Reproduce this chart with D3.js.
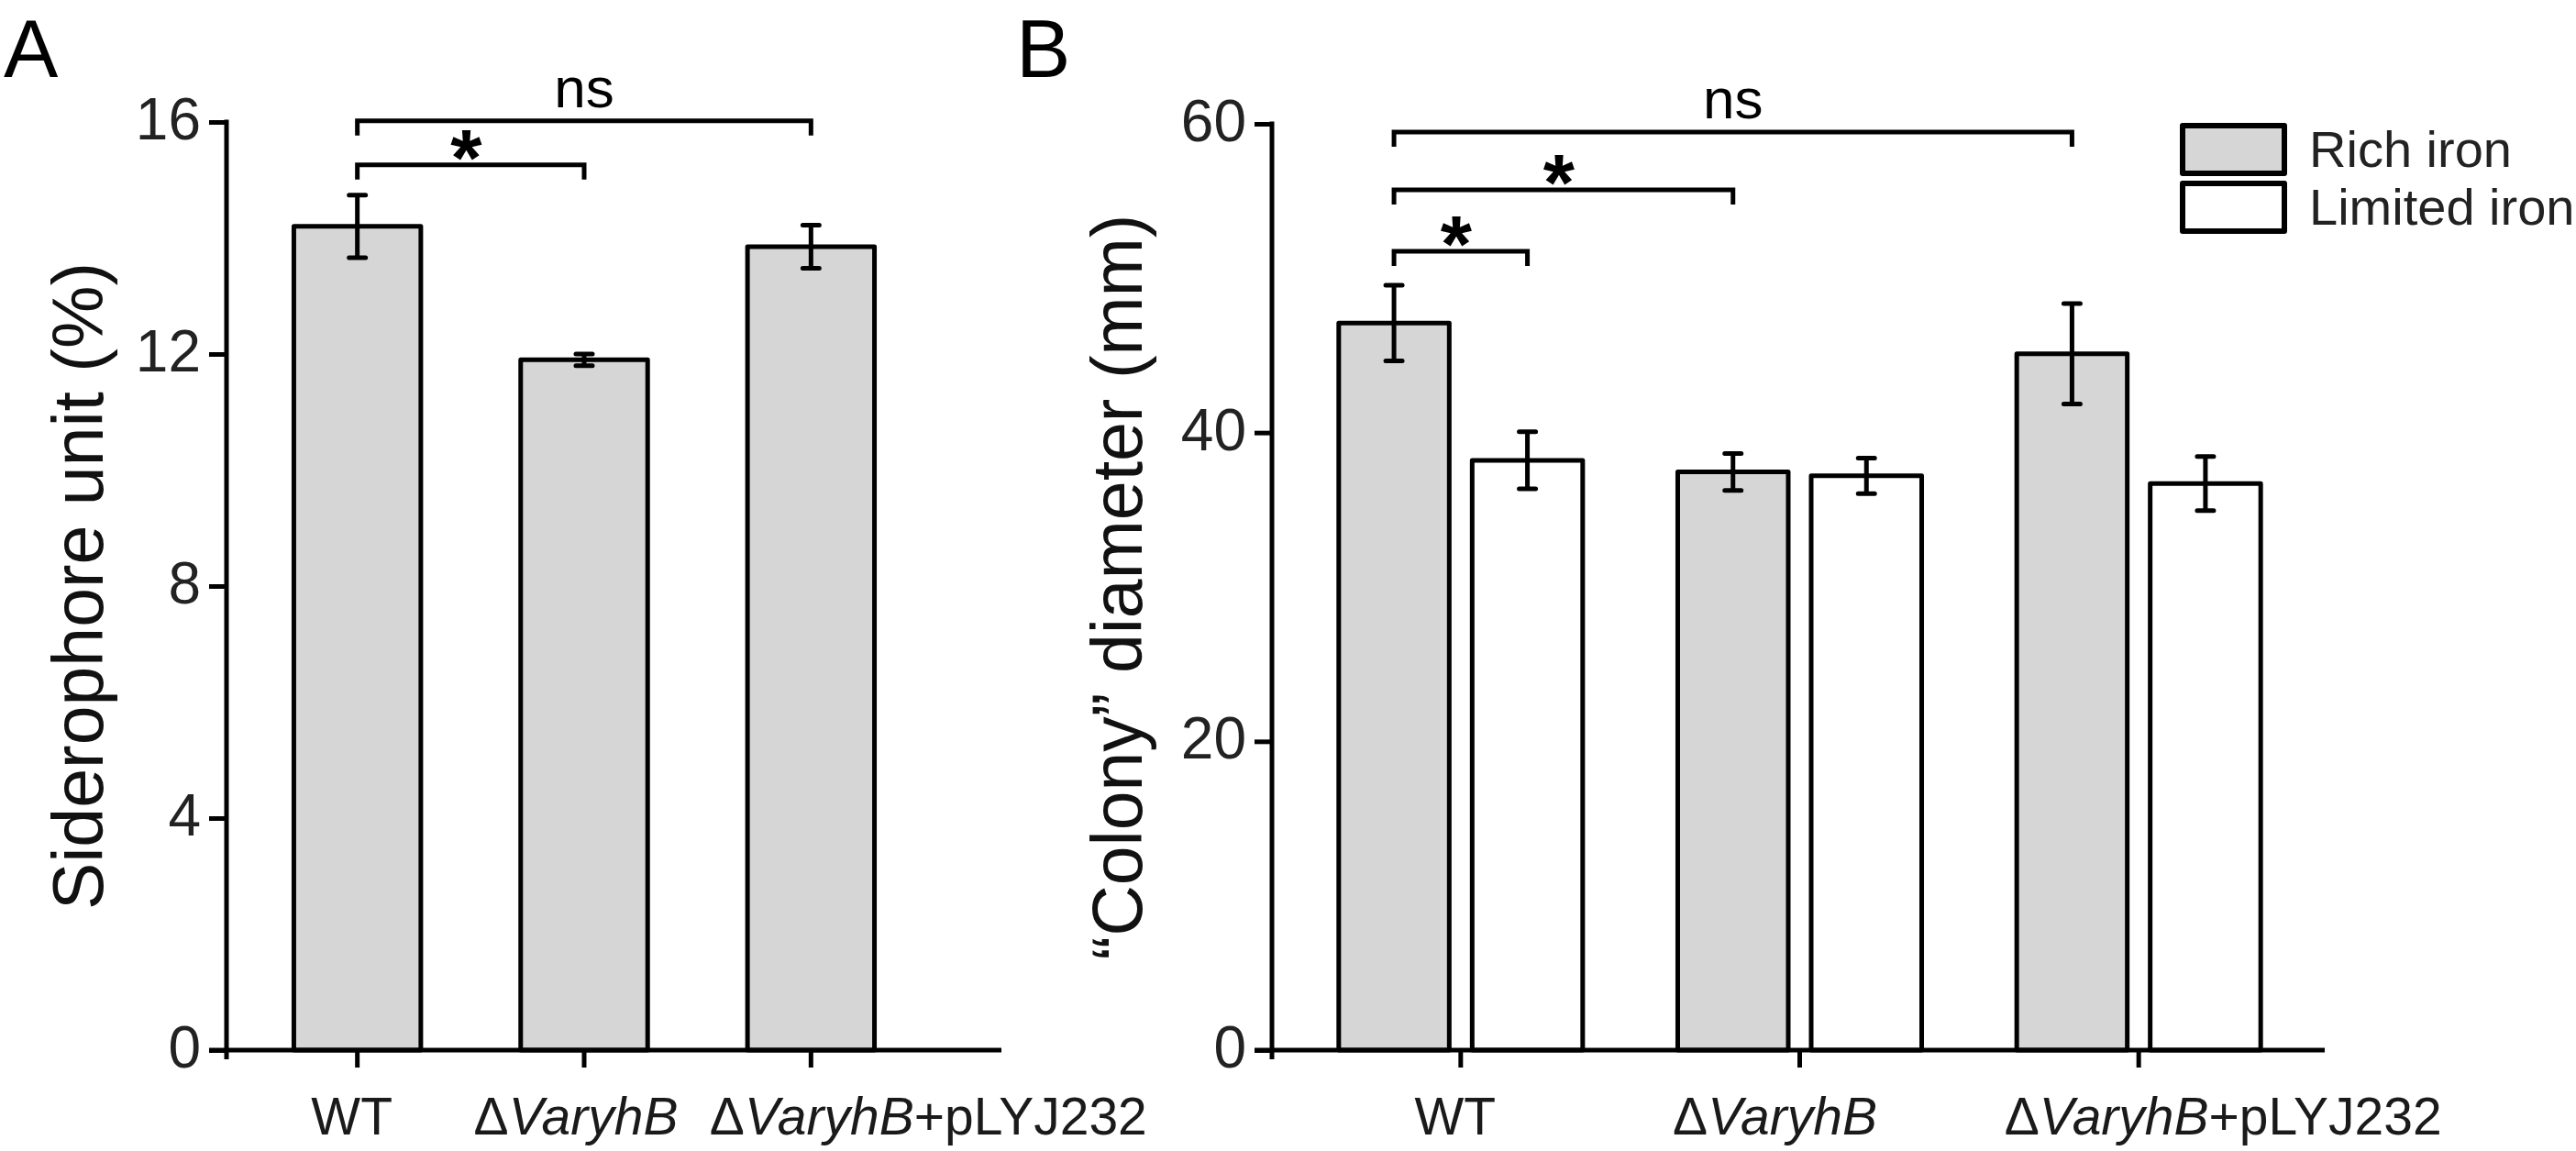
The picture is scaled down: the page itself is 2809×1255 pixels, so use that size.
<!DOCTYPE html>
<html>
<head>
<meta charset="utf-8">
<script src="https://cdn.jsdelivr.net/npm/d3@7"></script>
<style>
  body { margin: 0; background: #fff; }
  svg { display: block; font-family: "Liberation Sans", Arial, sans-serif; }
  .tick-label { font-size: 64px; fill: #222; }
  .cat-label { font-size: 57px; fill: #1a1a1a; }
  .axis-title { font-size: 77px; fill: #111; }
  .panel-label { font-size: 89px; fill: #000; }
  .legend-label { font-size: 56px; fill: #222; }
</style>
</head>
<body>
<svg id="chart"></svg>
<script>
const width = 2809, height = 1255;

// panel A
const categories = ["WT", "ΔVaryhB", "ΔVaryhB+pLYJ232"];
const siderophore = [14.2, 11.9, 13.85];
const siderophoreErr = [0.54, 0.1, 0.37];
const ticksA = [0, 4, 8, 12, 16];

// panel B
const series = ["Rich iron", "Limited iron"];
const richIron = [47.1, 37.45, 45.1];
const richIronErr = [2.45, 1.2, 3.25];
const limitedIron = [38.2, 37.2, 36.7];
const limitedIronErr = [1.85, 1.15, 1.75];
const ticksB = [0, 20, 40, 60];

// significance brackets: category index (A) or [category, series] (B)
const bracketsA = [
    {from: 0, to: 2, level: 16.02, label: "ns"},
    {from: 0, to: 1, level: 15.26, label: "*"}
];
const bracketsB = [
    {from: [0, 0], to: [2, 0], level: 59.47, label: "ns"},
    {from: [0, 0], to: [1, 0], level: 55.72, label: "*"},
    {from: [0, 0], to: [0, 1], level: 51.74, label: "*"}
];

const lw = 5, tickLen = 19, capHalf = 9, drop = 16;
const richFill = "#d6d6d6";

const svg = d3.select('#chart')
    .attr('width', width)
    .attr('height', height)
    .attr('viewBox', `0 0 ${width} ${height}`);

function labelParts(name) {
    // Δ normal, strain name italic, plasmid suffix normal
    if (!name.startsWith("Δ")) return [[name, false]];
    const plus = name.indexOf("+");
    const strain = plus < 0 ? name.slice(1) : name.slice(1, plus);
    const parts = [["Δ", false], [strain, true]];
    if (plus >= 0) parts.push([name.slice(plus), false]);
    return parts;
}

function drawYAxis(g, y, ticks, axisX, zeroY) {
    const ax = g.append('g')
        .attr('transform', `translate(${axisX},0)`)
        .call(d3.axisLeft(y).tickValues(ticks).tickSize(tickLen).tickSizeOuter(0).tickFormat(''));
    ax.select('.domain').remove();
    ax.selectAll('.tick line').attr('stroke', '#000').attr('stroke-width', lw);
    g.append('line')
        .attr('x1', axisX).attr('x2', axisX)
        .attr('y1', y(d3.max(ticks)) - lw / 2).attr('y2', zeroY + 10)
        .attr('stroke', '#000').attr('stroke-width', lw);
    g.selectAll('.ylab').data(ticks).enter().append('text')
        .attr('class', 'tick-label')
        .attr('x', axisX - tickLen - 9)
        .attr('y', d => y(d) + 19)
        .attr('text-anchor', 'end')
        .text(d => d);
}

function drawXAxis(g, x, axisX, endX, zeroY, shifts) {
    const ax = g.append('g')
        .attr('transform', `translate(0,${zeroY})`)
        .call(d3.axisBottom(x).tickSize(tickLen).tickSizeOuter(0).tickFormat(''));
    ax.select('.domain').remove();
    ax.selectAll('.tick line').attr('stroke', '#000').attr('stroke-width', lw);
    g.append('line')
        .attr('x1', axisX - tickLen).attr('x2', endX)
        .attr('y1', zeroY).attr('y2', zeroY)
        .attr('stroke', '#000').attr('stroke-width', lw);
    categories.forEach((c, i) => {
        const t = g.append('text')
            .attr('class', 'cat-label')
            .attr('x', x(c) + x.bandwidth() / 2 + shifts[i])
            .attr('y', 1237)
            .attr('text-anchor', 'middle');
        labelParts(c).forEach(p => {
            t.append('tspan').attr('font-style', p[1] ? 'italic' : 'normal').text(p[0]);
        });
    });
}

function drawErr(g, cx, y, v, e) {
    const path = `M${cx},${y(v + e)}V${y(v - e)}M${cx - capHalf},${y(v + e)}H${cx + capHalf}M${cx - capHalf},${y(v - e)}H${cx + capHalf}`;
    g.append('path')
        .attr('d', path)
        .attr('fill', 'none')
        .attr('stroke', '#000')
        .attr('stroke-width', lw)
        .attr('stroke-linecap', 'round');
}

function drawBracket(g, x1, x2, yy, label) {
    g.append('path')
        .attr('d', `M${x1},${yy + drop}V${yy}H${x2}V${yy + drop}`)
        .attr('fill', 'none')
        .attr('stroke', '#000')
        .attr('stroke-width', lw);
    const mid = (x1 + x2) / 2;
    if (label === '*') {
        g.append('text')
            .attr('x', mid - 5)
            .attr('y', yy + 22)
            .attr('text-anchor', 'middle')
            .attr('font-size', 88)
            .attr('font-weight', 'bold')
            .text('*');
    } else {
        g.append('text')
            .attr('x', mid)
            .attr('y', yy - 15)
            .attr('text-anchor', 'middle')
            .attr('font-size', 62)
            .text(label);
    }
}

// ---------- Panel A ----------
const axisXA = 247, endXA = 1092, zeroY = 1145;
const gA = svg.append('g');
const yA = d3.scaleLinear().domain([0, 16]).range([zeroY, 133]);
const xA = d3.scaleBand().domain(categories).range([266, 1008]).paddingInner(0.42).paddingOuter(0.21);

gA.selectAll('.bar').data(categories).enter().append('rect')
    .attr('x', d => xA(d) + lw / 2)
    .attr('y', (d, i) => yA(siderophore[i]))
    .attr('width', xA.bandwidth() - lw)
    .attr('height', (d, i) => zeroY - yA(siderophore[i]))
    .attr('fill', richFill)
    .attr('stroke', '#000')
    .attr('stroke-width', lw)
    .attr('stroke-linejoin', 'round');
categories.forEach((c, i) => {
    drawErr(gA, xA(c) + xA.bandwidth() / 2, yA, siderophore[i], siderophoreErr[i]);
});
drawYAxis(gA, yA, ticksA, axisXA, zeroY);
drawXAxis(gA, xA, axisXA, endXA, zeroY, [-6, -9, 128]);
bracketsA.forEach(b => {
    const x1 = xA(categories[b.from]) + xA.bandwidth() / 2;
    const x2 = xA(categories[b.to]) + xA.bandwidth() / 2;
    drawBracket(gA, x1, x2, yA(b.level), b.label);
});
gA.append('text')
    .attr('class', 'axis-title')
    .attr('transform', `translate(112,${(yA(0) + yA(16)) / 2}) rotate(-90)`)
    .attr('text-anchor', 'middle')
    .text('Siderophore unit (%)');
gA.append('text').attr('class', 'panel-label').attr('x', 4).attr('y', 84).text('A');

// ---------- Panel B ----------
const axisXB = 1387, endXB = 2535;
const gB = svg.append('g');
const yB = d3.scaleLinear().domain([0, 60]).range([zeroY, 135]);
const xB = d3.scaleBand().domain(categories).range([1408, 2517]);
const xSub = d3.scaleBand().domain(series).range([0, xB.bandwidth()]).paddingInner(0.1375).paddingOuter(0.339);
const valuesB = [richIron, limitedIron];
const errorsB = [richIronErr, limitedIronErr];
const fills = [richFill, '#fff'];

series.forEach((s, si) => {
    gB.selectAll('.bar' + si).data(categories).enter().append('rect')
        .attr('x', d => xB(d) + xSub(s) + lw / 2)
        .attr('y', (d, i) => yB(valuesB[si][i]))
        .attr('width', xSub.bandwidth() - lw)
        .attr('height', (d, i) => zeroY - yB(valuesB[si][i]))
        .attr('fill', fills[si])
        .attr('stroke', '#000')
        .attr('stroke-width', lw)
        .attr('stroke-linejoin', 'round');
});
series.forEach((s, si) => {
    categories.forEach((c, i) => {
        drawErr(gB, xB(c) + xSub(s) + xSub.bandwidth() / 2, yB, valuesB[si][i], errorsB[si][i]);
    });
});
drawYAxis(gB, yB, ticksB, axisXB, zeroY);
drawXAxis(gB, xB, axisXB, endXB, zeroY, [-6, -27, 92]);
const barCenter = p => xB(categories[p[0]]) + xSub(series[p[1]]) + xSub.bandwidth() / 2;
bracketsB.forEach(b => {
    drawBracket(gB, barCenter(b.from), barCenter(b.to), yB(b.level), b.label);
});
gB.append('text')
    .attr('class', 'axis-title')
    .attr('transform', `translate(1245,${(yB(0) + yB(60)) / 2}) rotate(-90)`)
    .attr('text-anchor', 'middle')
    .text('“Colony” diameter (mm)');
gB.append('text').attr('class', 'panel-label').attr('x', 1108).attr('y', 84).text('B');

// legend
const legendX = 2380, legendY = 137, rowH = 63;
series.forEach((s, si) => {
    gB.append('rect')
        .attr('x', legendX)
        .attr('y', legendY + si * rowH)
        .attr('width', 111)
        .attr('height', 52)
        .attr('fill', fills[si])
        .attr('stroke', '#000')
        .attr('stroke-width', 6)
        .attr('stroke-linejoin', 'round');
    gB.append('text')
        .attr('class', 'legend-label')
        .attr('x', 2518)
        .attr('y', legendY + si * rowH + 45)
        .text(s);
});
</script>
</body>
</html>
